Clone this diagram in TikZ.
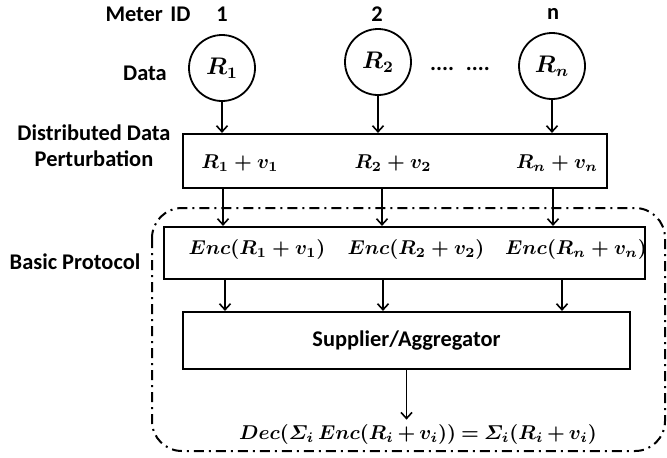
\documentclass[tikz,border=0pt]{standalone}
\usepackage{amsmath}
\usepackage{fontspec}
\newfontfamily\carlito{Carlito}
\usetikzlibrary{arrows.meta}

\begin{document}
\begin{tikzpicture}[x=0.5pt,y=-0.5pt,
	lbl/.style={font=\carlito\bfseries\fontsize{11.2}{13}\selectfont,inner sep=0pt},
	eq/.style={font=\boldmath\fontsize{10}{12}\selectfont,inner sep=0pt},
	box/.style={draw,line width=1.1pt,inner sep=0pt},
	dat/.style={draw,circle,line width=0.9pt,minimum size=33pt,inner sep=0pt,font=\boldmath\fontsize{11.5}{13}\selectfont},
	arr/.style={-{Straight Barb[length=3pt,width=5.5pt]},line width=0.8pt}]
	\useasboundingbox (0,0) rectangle (667,457);
	\draw[line width=1pt,dash pattern=on 5pt off 2.5pt on 1pt off 2.5pt,rounded corners=15pt] (152,208) rectangle (665,451);
	\node[lbl] (meter) at (148,14) {Meter\,\,ID};
	\node[lbl] (id1) at (222,14) {1};
	\node[lbl] (id2) at (377,14) {2};
	\node[lbl] (idn) at (553,14) {n};
	\node[lbl] (data) at (145,73) {Data};
	\node[dat] (r1) at (222,68) {$R_1$};
	\node[dat] (r2) at (378,62) {$R_2$};
	\node[dat] (rn) at (552,66) {$R_n$};
	\node[lbl] (dots) at (460,69) {....\hspace{6pt}....};
	\node[lbl,align=center] (ddp) at (94,146) {Distributed Data\\Perturbation};
	\node[box,minimum width=212pt,minimum height=27pt] (pert) at (395,161) {};
	\node[eq] (p1) at (240,163) {$R_1+v_1$};
	\node[eq] (p2) at (393,163) {$R_2+v_2$};
	\node[eq] (pn) at (557,163) {$R_n+v_n$};
	\node[lbl] (basic) at (75,262) {Basic Protocol};
	\node[box,minimum width=240.5pt,minimum height=26pt] (enc) at (404.5,253) {};
	\node[eq] (e1) at (257,249) {$Enc(R_1+v_1)$};
	\node[eq] (e2) at (416,249) {$Enc(R_2+v_2)$};
	\node[eq] (en) at (576,249) {$Enc(R_n+v_n)$};
	\node[box,minimum width=223.5pt,minimum height=28.5pt,font=\carlito\bfseries\fontsize{11.2}{13}\selectfont] (sup) at (406.5,340.5) {Supplier/Aggregator};
	\node[eq] (dec) at (418,434) {\medmuskip=3mu\thickmuskip=4mu$Dec(\varSigma_i\,Enc(R_i+v_i))=\varSigma_i(R_i+v_i)$};
	\draw[arr] (r1) -- (r1 |- pert.north);
	\draw[arr] (r2) -- (r2 |- pert.north);
	\draw[arr] (rn) -- (rn |- pert.north);
	\draw[arr] ([xshift=0.5pt]r1 |- pert.south) -- ([xshift=0.5pt]r1 |- enc.north);
	\draw[arr] ([xshift=2pt]r2 |- pert.south) -- ([xshift=2pt]r2 |- enc.north);
	\draw[arr] ([xshift=0.5pt]rn |- pert.south) -- ([xshift=0.5pt]rn |- enc.north);
	\draw[arr] ([xshift=1.5pt]r1 |- enc.south) -- ([xshift=1.5pt]r1 |- sup.north);
	\draw[arr] ([xshift=2.5pt]r2 |- enc.south) -- ([xshift=2.5pt]r2 |- sup.north);
	\draw[arr] ([xshift=5pt]rn |- enc.south) -- ([xshift=5pt]rn |- sup.north);
	\draw[arr] (sup.south) -- ([yshift=2pt]sup.south |- dec.north);
\end{tikzpicture}
\end{document}
